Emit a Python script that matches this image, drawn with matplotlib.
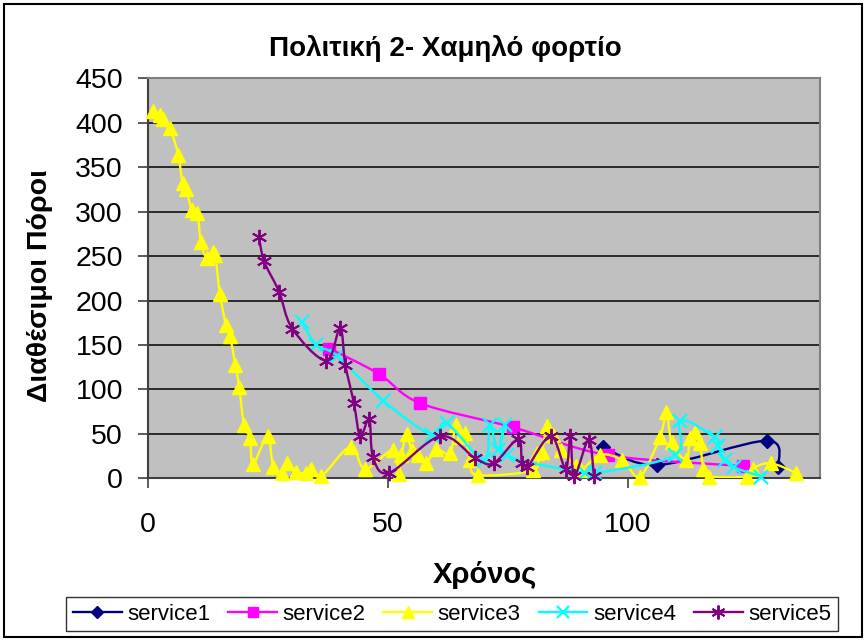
import numpy as np
import matplotlib
matplotlib.use("Agg")
import matplotlib.pyplot as plt
from matplotlib.path import Path
from matplotlib.patches import PathPatch, Rectangle
from matplotlib.lines import Line2D

plt.rcParams['font.family'] = ['Liberation Sans', 'DejaVu Sans']

title = "Πολιτική 2- Χαμηλό φορτίο"
xlabel = "Χρόνος"
ylabel = "Διαθέσιμοι Πόροι"
series_names = ["service1", "service2", "service3", "service4", "service5"]

s1_x = [94.7, 106.1, 129.0, 131.3]
s1_y = [35.6, 15.0, 42.3, 12.4]

s2_x = [37.8, 48.1, 56.7, 76.0, 95.9, 123.9]
s2_y = [146, 117.5, 84.5, 57.4, 26, 13.9]

s3_x = [1.1, 2.5, 3.2, 4.6, 6.3, 7.2, 8.0, 9.1, 10.3, 11.0, 12.2, 13.5, 14.0, 15.0,
        16.25, 17.1, 18.2, 19.0, 20.0, 21.25, 21.9, 24.9, 26.1, 28.0, 29.0, 30.9,
        32.9, 33.9, 36.1, 42.2, 45.2, 51.1, 52.2, 52.8, 53.9, 54.9, 56.3, 58.0,
        59.9, 62.9, 64.1, 65.3, 66.0, 67.1, 68.7, 80.3, 81.0, 82.0, 83.2, 84.4,
        86.1, 89.1, 90.3, 94.2, 98.8, 102.5, 106.7, 108.0, 109.1, 112.1, 112.9,
        114.0, 115.0, 115.7, 116.9, 124.7, 126.0, 129.7, 135.1]
s3_y = [413, 409, 404, 394, 364, 332, 325, 302, 298, 266, 248, 255, 251, 207,
        172, 160, 127, 103, 60, 45, 16, 47.6, 13, 6, 17, 7.5,
        5.6, 11, 2.6, 35.6, 10.5, 32, 5, 26, 50, 32, 26, 17,
        33, 28, 59.5, 47, 51, 20.6, 3.7, 9.3, 29, 30, 58.5, 49,
        32, 14, 9.3, 26.5, 20.6, 2, 47, 75, 41, 20.6, 45,
        52.5, 39.4, 11, 2, 2, 11, 17, 6]

s4_x = [32.0, 35.1, 39.3, 49.0, 59.1, 62.2, 69.9, 71.2, 72.9, 74.4, 74.7, 91.0,
        93.1, 109.8, 110.9, 118.1, 118.8, 120.2, 122.0, 127.8]
s4_y = [176, 150, 138, 87.4, 48.8, 62, 20.6, 60, 32, 60, 26, 6.3,
        5.6, 26, 65, 46, 36, 20.6, 12.4, 2]

s5_x = [23.1, 24.2, 27.3, 30.1, 37.1, 40.0, 41.1, 42.9, 44.2, 46.1, 46.9, 50.3,
        60.9, 68.2, 72.0, 77.1, 77.9, 79.0, 83.9, 87.0, 88.0, 88.8, 91.8, 92.9]
s5_y = [272, 244, 210, 168, 132.4, 169, 128, 84.5, 47.6, 66.4, 23.6, 6.3,
        47.3, 22.5, 17, 44, 17, 12.4, 47.6, 11, 47.6, 2.3, 43.5, 2.3]

x_ticks = [0, 50, 100]
y_ticks = [0, 50, 100, 150, 200, 250, 300, 350, 400, 450]

colors = ['#000080', '#FF00FF', '#FFFF00', '#00FFFF', '#800080']
markers = ['D', 's', '^', 'x', (6, 2, 0)]
msizes = [7, 8, 10, 10, 11]
mews = [1, 1, 1, 1.6, 1.4]


def smooth_path(xs, ys):
    pts = np.column_stack([xs, ys]).astype(float)
    n = len(pts)
    verts = [pts[0]]
    codes = [Path.MOVETO]
    for i in range(n - 1):
        p0 = pts[i - 1] if i > 0 else pts[i]
        p1 = pts[i]
        p2 = pts[i + 1]
        p3 = pts[i + 2] if i + 2 < n else pts[i + 1]
        c1 = p1 + (p2 - p0) / 6.0
        c2 = p2 - (p3 - p1) / 6.0
        verts += [c1, c2, p2]
        codes += [Path.CURVE4] * 3
    return Path(verts, codes)


fig = plt.figure(figsize=(8.68, 6.4), dpi=100)
ax = fig.add_axes([148 / 868, 1 - 478.3 / 640, (820 - 148) / 868, 400 / 640])
ax.set_facecolor('#C0C0C0')
ax.set_xlim(0, 140)
ax.set_ylim(0, 450)
ax.set_xticks(x_ticks)
ax.set_yticks(y_ticks)
ax.yaxis.grid(True, color='black', linewidth=1.1)
ax.set_axisbelow(True)
for sp in ax.spines.values():
    sp.set_color('#808080')
    sp.set_linewidth(1.5)
ax.spines['left'].set_color('#404040')
ax.spines['bottom'].set_color('#404040')
ax.tick_params(axis='y', direction='out', length=7, width=1.2, color='#404040',
               labelsize=20.5, pad=11)
ax.tick_params(axis='x', direction='out', length=7, width=1.2, color='#404040',
               labelsize=20.5, pad=17)

data = [(s1_x, s1_y), (s2_x, s2_y), (s3_x, s3_y), (s4_x, s4_y), (s5_x, s5_y)]
handles = []
for i, (xs, ys) in enumerate(data):
    patch = PathPatch(smooth_path(xs, ys), fill=False, edgecolor=colors[i],
                      linewidth=1.7, zorder=3 + i)
    ax.add_patch(patch)
    ax.plot(xs, ys, linestyle='none', marker=markers[i], markersize=msizes[i],
            color=colors[i], markeredgecolor=colors[i], markeredgewidth=mews[i],
            zorder=3.5 + i, clip_on=False)
    handles.append(Line2D([], [], color=colors[i], linewidth=1.7, marker=markers[i],
                          markersize=msizes[i] - 1, markeredgewidth=mews[i],
                          markeredgecolor=colors[i]))

fig.text(445 / 868, 1 - 48 / 640, title, ha='center', va='center',
         fontsize=20, fontweight='bold')
fig.text(40 / 868, 1 - 286 / 640, ylabel, ha='center', va='center',
         rotation=90, fontsize=20.5, fontweight='bold')
fig.text(485 / 868, 1 - 575 / 640, xlabel, ha='center', va='center',
         fontsize=21, fontweight='bold')

leg = fig.legend(handles, series_names, loc='center', ncol=5,
                 bbox_to_anchor=(452 / 868, 1 - 614 / 640), fontsize=16,
                 frameon=True, fancybox=False, edgecolor='black',
                 handlelength=2.2, handletextpad=0.25, columnspacing=0.8,
                 borderpad=0.3, borderaxespad=0.0)
leg.get_frame().set_linewidth(1.0)

fig.patches.append(Rectangle((4 / 868, 3 / 640), 858 / 868, 633 / 640,
                             transform=fig.transFigure, fill=False,
                             edgecolor='black', linewidth=1.5))

fig.savefig('out.png', dpi=100, facecolor='white')
